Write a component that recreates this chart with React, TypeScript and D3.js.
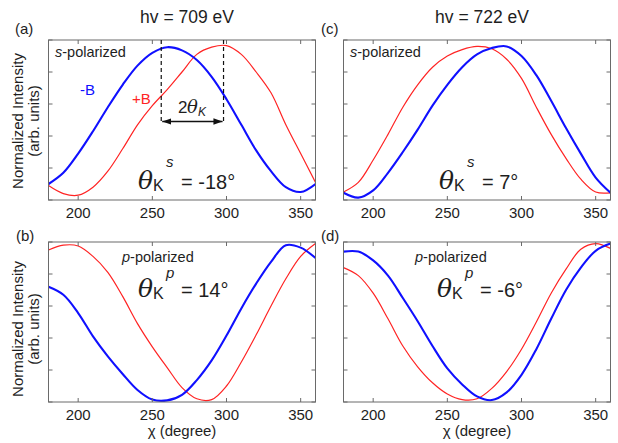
import React from "react";
import * as d3 from "d3";

// ---------- data ----------
const chi = [180, 190, 200, 210, 220, 230, 240, 250, 260, 270, 280, 290, 300, 310, 320, 330, 340, 350, 360];

// (a) hv = 709 eV, s-polarized
const aMinusB = [0.10, 0.17, 0.29, 0.43, 0.58, 0.72, 0.84, 0.92, 0.955, 0.935, 0.875, 0.77, 0.63, 0.47, 0.31, 0.18, 0.08, 0.05, 0.10];
const aPlusB = [0.09, 0.04, 0.03, 0.08, 0.18, 0.32, 0.47, 0.59, 0.69, 0.80, 0.91, 0.955, 0.965, 0.91, 0.80, 0.67, 0.47, 0.29, 0.11];
// (b) hv = 709 eV, p-polarized
const bMinusB = [0.72, 0.67, 0.556, 0.41, 0.285, 0.175, 0.075, 0.015, 0.01, 0.045, 0.137, 0.26, 0.415, 0.585, 0.74, 0.876, 0.98, 0.965, 0.90];
const bPlusB = [0.95, 0.98, 0.975, 0.91, 0.81, 0.66, 0.49, 0.345, 0.215, 0.09, 0.02, 0.015, 0.10, 0.25, 0.42, 0.60, 0.77, 0.91, 0.99];
// (c) hv = 722 eV, s-polarized
const cMinusB = [0.045, 0.015, 0.06, 0.17, 0.30, 0.44, 0.59, 0.72, 0.83, 0.91, 0.95, 0.96, 0.90, 0.78, 0.62, 0.45, 0.29, 0.14, 0.045];
const cPlusB = [0.05, 0.11, 0.25, 0.41, 0.58, 0.72, 0.83, 0.90, 0.94, 0.96, 0.945, 0.88, 0.76, 0.58, 0.41, 0.26, 0.13, 0.05, 0.045];
// (d) hv = 722 eV, p-polarized
const dMinusB = [0.94, 0.94, 0.885, 0.79, 0.65, 0.505, 0.35, 0.21, 0.11, 0.035, 0.012, 0.06, 0.17, 0.33, 0.52, 0.70, 0.84, 0.945, 0.99];
const dPlusB = [0.84, 0.79, 0.68, 0.52, 0.35, 0.22, 0.12, 0.05, 0.015, 0.02, 0.085, 0.19, 0.33, 0.50, 0.68, 0.83, 0.955, 0.99, 0.96];

const xTicks = [200, 250, 300, 350];
const yTicks = [0, 0.2, 0.4, 0.6, 0.8, 1.0];
const titles = ["hv = 709 eV", "hv = 722 eV"];
const panelLetters = ["(a)", "(b)", "(c)", "(d)"];
const thetaValues = ["= -18°", "= 14°", "= 7°", "= -6°"];
const polLetters = ["s", "p", "s", "p"];
const dashedChi = [256, 298];

// ---------- layout ----------
const SANS = "'Liberation Sans', Arial, Helvetica, sans-serif";
const SERIF = "'DejaVu Serif', 'Liberation Serif', serif";
const BLUE = "#1010ff";
const RED = "#ff2424";
const FRAME = "#6a6a6a";
const TXT = "#1e1e1e";

const panels = [
  { x0: 48.5, x1: 315.5, y0: 40, y1: 200, minus: aMinusB, plus: aPlusB, polX: 55, polY: 57, eqX: 138, eqY: 189, supDy: -22, letterX: 15, letterY: 34 },
  { x0: 48.5, x1: 315.5, y0: 242, y1: 402, minus: bMinusB, plus: bPlusB, polX: 122, polY: 262, eqX: 138, eqY: 297, supDy: -19, letterX: 16, letterY: 241 },
  { x0: 343.5, x1: 610.5, y0: 40, y1: 200, minus: cMinusB, plus: cPlusB, polX: 350, polY: 57, eqX: 439, eqY: 189, supDy: -22, letterX: 321, letterY: 34 },
  { x0: 343.5, x1: 610.5, y0: 242, y1: 402, minus: dMinusB, plus: dPlusB, polX: 415, polY: 262, eqX: 437, eqY: 297, supDy: -19, letterX: 321, letterY: 241 },
];

function Panel({ p, idx }: { p: any; idx: number }) {
  const x = d3.scaleLinear().domain([180, 360]).range([p.x0, p.x1]);
  const y = d3.scaleLinear().domain([0, 1]).range([p.y1, p.y0]);
  const line = d3
    .line<number>()
    .x((_d, i) => x(chi[i]))
    .y((d) => y(d))
    .curve(d3.curveCatmullRom.alpha(0.5));
  const clipId = `clip-${idx}`;
  const isBottom = idx === 1 || idx === 3;
  const tl = 4;
  const eqX = p.eqX;
  const eqY = p.eqY;
  return (
    <g>
      <defs>
        <clipPath id={clipId}>
          <rect x={p.x0} y={p.y0} width={p.x1 - p.x0} height={p.y1 - p.y0} />
        </clipPath>
      </defs>
      <g clipPath={`url(#${clipId})`}>
        <path d={line(p.plus) || ""} fill="none" stroke={RED} strokeWidth={1.2} />
        <path d={line(p.minus) || ""} fill="none" stroke={BLUE} strokeWidth={2.1} />
      </g>
      <rect x={p.x0} y={p.y0} width={p.x1 - p.x0} height={p.y1 - p.y0} fill="none" stroke={FRAME} strokeWidth={1} />
      {yTicks.map((t) => (
        <g key={"y" + t}>
          <line x1={p.x0} x2={p.x0 + tl} y1={y(t)} y2={y(t)} stroke={FRAME} />
          <line x1={p.x1} x2={p.x1 - tl} y1={y(t)} y2={y(t)} stroke={FRAME} />
        </g>
      ))}
      {xTicks.map((t) => (
        <g key={"x" + t}>
          <line x1={x(t)} x2={x(t)} y1={p.y1} y2={p.y1 - tl} stroke={FRAME} />
          <line x1={x(t)} x2={x(t)} y1={p.y0} y2={p.y0 + tl} stroke={FRAME} />
          <text x={x(t)} y={p.y1 + 18} textAnchor="middle" fontFamily={SANS} fontSize={15} fill={TXT}>
            {t}
          </text>
        </g>
      ))}
      <text x={p.letterX} y={p.letterY} fontFamily={SANS} fontSize={15} fill={TXT}>
        {panelLetters[idx]}
      </text>
      <text x={p.polX} y={p.polY} fontFamily={SANS} fontSize={14.5} fill={TXT}>
        <tspan fontStyle="italic">{polLetters[idx]}</tspan>-polarized
      </text>
      {/* theta_K equation */}
      <text x={eqX} y={eqY} fontFamily={SERIF} fontStyle="italic" fontSize={25} fill={TXT}>
        θ
      </text>
      <text x={eqX + 15} y={eqY + 2} fontFamily={SANS} fontSize={16} fill={TXT}>
        K
      </text>
      <text x={eqX + 28} y={eqY + p.supDy} fontFamily={SANS} fontStyle="italic" fontSize={15} fill={TXT}>
        {polLetters[idx]}
      </text>
      <text x={eqX + 43} y={eqY} fontFamily={SANS} fontSize={20} fill={TXT}>
        {thetaValues[idx]}
      </text>
      {isBottom && (
        <text x={(p.x0 + p.x1) / 2} y={p.y1 + 34} textAnchor="middle" fontFamily={SANS} fontSize={15} fill={TXT}>
          χ  (degree)
        </text>
      )}
    </g>
  );
}

export default function App() {
  const pa = panels[0];
  const xa = d3.scaleLinear().domain([180, 360]).range([pa.x0, pa.x1]);
  const ya = d3.scaleLinear().domain([0, 1]).range([pa.y1, pa.y0]);
  const dx0 = xa(dashedChi[0]);
  const dx1 = xa(dashedChi[1]);
  const arrowY = 121.5;
  return (
    <svg width={618} height={443} style={{ position: "absolute", left: 0, top: 0, background: "#fff" }}>
      <defs>
        <marker id="ah" viewBox="0 0 10 10" refX="10" refY="5" markerWidth="7" markerHeight="7" orient="auto-start-reverse">
          <path d="M0,1.5 L10,5 L0,8.5 z" fill="#111" />
        </marker>
      </defs>
      <rect x={0} y={0} width={618} height={443} fill="#fff" />
      <text x={187} y={23} textAnchor="middle" fontFamily={SANS} fontSize={17.5} fill={TXT}>
        {titles[0]}
      </text>
      <text x={482} y={23} textAnchor="middle" fontFamily={SANS} fontSize={17.5} fill={TXT}>
        {titles[1]}
      </text>
      {panels.map((p, i) => (
        <Panel key={i} p={p} idx={i} />
      ))}
      {/* y-axis labels */}
      {[121, 329].map((cy, i) => (
        <g key={"yl" + i}>
          <text transform={`translate(23,${cy}) rotate(-90)`} textAnchor="middle" fontFamily={SANS} fontSize={15} fill={TXT}>
            Normalized Intensity
          </text>
          <text transform={`translate(39,${cy}) rotate(-90)`} textAnchor="middle" fontFamily={SANS} fontSize={15} fill={TXT}>
            (arb. units)
          </text>
        </g>
      ))}
      {/* -B / +B labels */}
      <text x={80} y={95} fontFamily={SANS} fontSize={15} fill={BLUE}>
        -B
      </text>
      <text x={132} y={104} fontFamily={SANS} fontSize={15} fill={RED}>
        +B
      </text>
      {/* dashed lines + arrow */}
      <line x1={dx0} x2={dx0} y1={ya(1)} y2={arrowY} stroke="#111" strokeWidth={1.2} strokeDasharray="4,3" />
      <line x1={dx1} x2={dx1} y1={ya(1)} y2={arrowY} stroke="#111" strokeWidth={1.2} strokeDasharray="4,3" />
      <line x1={dx0 + 1} x2={dx1 - 1} y1={arrowY} y2={arrowY} stroke="#111" strokeWidth={1.3} markerStart="url(#ah)" markerEnd="url(#ah)" />
      <text x={178} y={113} fontFamily={SANS} fontSize={17} fill={TXT}>
        2
      </text>
      <text x={187} y={113} fontFamily={SERIF} fontStyle="italic" fontSize={18} fill={TXT}>
        θ
      </text>
      <text x={198} y={116} fontFamily={SANS} fontStyle="italic" fontSize={12} fill={TXT}>
        K
      </text>
    </svg>
  );
}
